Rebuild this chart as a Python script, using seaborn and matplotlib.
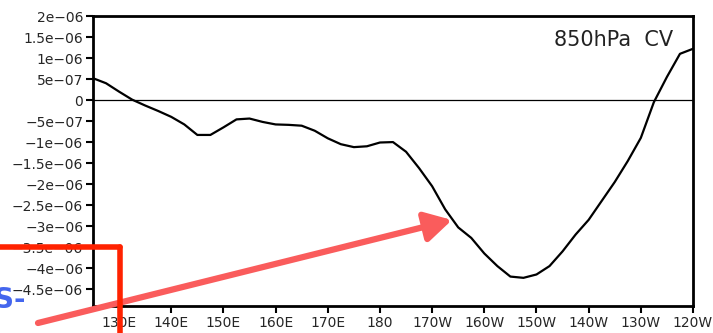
import matplotlib
matplotlib.use("Agg")
import matplotlib.pyplot as plt
import seaborn as sns
import pandas as pd

# Data (longitude in degrees east, 850hPa CV)
lon = [125, 127.5, 130, 132.5, 135, 137.5, 140, 142.5, 145, 147.5, 150, 152.5,
       155, 157.5, 160, 162.5, 165, 167.5, 170, 172.5, 175, 177.5, 180, 182.5,
       185, 187.5, 190, 192.5, 195, 197.5, 200, 202.5, 205, 207.5, 210, 212.5,
       215, 217.5, 220, 222.5, 225, 227.5, 230, 232.5, 235, 237.5, 240]
cv = [5.2, 4.0, 2.0, 0.1, -1.3, -2.6, -4.0, -5.8, -8.3, -8.3, -6.5, -4.6,
      -4.4, -5.2, -5.8, -5.9, -6.1, -7.3, -9.1, -10.5, -11.2, -11.0, -10.1, -10.0,
      -12.3, -16.2, -20.5, -26.0, -30.3, -32.8, -36.5, -39.5, -42.0, -42.3, -41.5, -39.5,
      -36.0, -32.0, -28.5, -24.0, -19.5, -14.5, -9.0, -0.5, 5.5, 11.0, 12.2]
cv = [v * 1e-7 for v in cv]

x_ticks = [130, 140, 150, 160, 170, 180, 190, 200, 210, 220, 230, 240]
x_labels = ['130E', '140E', '150E', '160E', '170E', '180', '170W', '160W',
            '150W', '140W', '130W', '120W']
y_ticks = [2e-6, 1.5e-6, 1e-6, 5e-7, 0, -5e-7, -1e-6, -1.5e-6, -2e-6, -2.5e-6,
           -3e-6, -3.5e-6, -4e-6, -4.5e-6]
y_labels = ['2e\u221206', '1.5e\u221206', '1e\u221206', '5e\u221207', '0',
            '\u22125e\u221207', '\u22121e\u221206', '\u22121.5e\u221206', '\u22122e\u221206',
            '\u22122.5e\u221206', '\u22123e\u221206', '\u22123.5e\u221206', '\u22124e\u221206',
            '\u22124.5e\u221206']

df = pd.DataFrame({'lon': lon, 'cv': cv})

sns.set_style("white")
plt.rcParams['font.family'] = ['DejaVu Sans']

fig = plt.figure(figsize=(7.13, 3.33), dpi=100)
ax = fig.add_axes([93 / 713, 1 - 306 / 333, 600 / 713, 290 / 333])

sns.lineplot(data=df, x='lon', y='cv', color='black', linewidth=1.6, ax=ax)
ax.axhline(0, color='black', linewidth=0.9)

ax.set_xlim(125, 240)
ax.set_ylim(-4.9e-6, 2e-6)
ax.set_xticks(x_ticks)
ax.set_xticklabels(x_labels)
ax.set_yticks(y_ticks)
ax.set_yticklabels(y_labels)
ax.set_xlabel('')
ax.set_ylabel('')
ax.tick_params(axis='both', direction='out', length=5, width=1.5, color='black',
               labelsize=10, pad=2, left=True, bottom=True)
for s in ax.spines.values():
    s.set_linewidth(2)
    s.set_color('black')

ax.text(0.967, 0.917, '850hPa  CV', transform=ax.transAxes, ha='right', va='center',
        fontsize=15, color='#222222')

# slide overlay marks
W, H = 713, 333
fig.add_artist(plt.Line2D([0, 120 / W], [1 - 247 / H, 1 - 247 / H], color='#ff2200', lw=4))
fig.add_artist(plt.Line2D([120 / W, 120 / W], [1 - 247 / H, 0], color='#ff2200', lw=4))
ax.annotate('', xy=(452 / W, 1 - 220 / H), xycoords='figure fraction',
            xytext=(38 / W, 1 - 323 / H), textcoords='figure fraction',
            arrowprops=dict(arrowstyle='-|>,head_length=1.6,head_width=0.9',
                            color='#fa5c5c', lw=4.5, shrinkA=0, shrinkB=0),
            annotation_clip=False)
fig.text(26 / W, 1 - 300 / H, 'S-', color='#4466ee', fontsize=20, fontweight='bold',
         ha='right', va='center')

fig.savefig('out.png', dpi=100)
